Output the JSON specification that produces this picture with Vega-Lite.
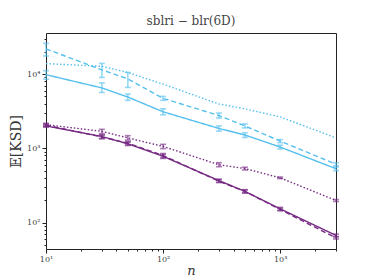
{
  "$schema": "https://vega.github.io/schema/vega-lite/v6.json",
  "width": 290,
  "height": 216,
  "autosize": {"type": "none"},
  "padding": {"left": 46, "top": 33, "right": 38, "bottom": 31},
  "background": "white",
  "config": {
    "view": {"stroke": "#222", "strokeWidth": 1},
    "font": "DejaVu Serif"
  },
  "title": {"text": "sblri − blr(6D)", "font": "DejaVu Serif", "fontSize": 12, "fontWeight": "normal", "color": "#444", "offset": 5},
  "data": {"values": [
    {"n": 10, "g": "c", "s": "solid", "v": 9800, "lo": 8500, "hi": 11100},
    {"n": 30, "g": "c", "s": "solid", "v": 6500, "lo": 5650, "hi": 7600},
    {"n": 50, "g": "c", "s": "solid", "v": 4900, "lo": 4420, "hi": 5380},
    {"n": 100, "g": "c", "s": "solid", "v": 3100, "lo": 2820, "hi": 3400},
    {"n": 300, "g": "c", "s": "solid", "v": 1850, "lo": 1700, "hi": 2000},
    {"n": 500, "g": "c", "s": "solid", "v": 1510, "lo": 1400, "hi": 1620},
    {"n": 1000, "g": "c", "s": "solid", "v": 1040, "lo": 980, "hi": 1100},
    {"n": 3000, "g": "c", "s": "solid", "v": 530, "lo": 500, "hi": 560},
    {"n": 10, "g": "c", "s": "dashed", "v": 21800, "lo": 17500, "hi": 25900},
    {"n": 30, "g": "c", "s": "dashed", "v": 11400, "lo": 9000, "hi": 13900},
    {"n": 50, "g": "c", "s": "dashed", "v": 8600, "lo": 6600, "hi": 10500},
    {"n": 100, "g": "c", "s": "dashed", "v": 4700, "lo": 4420, "hi": 5000},
    {"n": 300, "g": "c", "s": "dashed", "v": 2760, "lo": 2550, "hi": 2980},
    {"n": 500, "g": "c", "s": "dashed", "v": 2000, "lo": 1880, "hi": 2130},
    {"n": 1000, "g": "c", "s": "dashed", "v": 1250, "lo": 1190, "hi": 1310},
    {"n": 3000, "g": "c", "s": "dashed", "v": 610, "lo": 580, "hi": 640},
    {"n": 10, "g": "c", "s": "dotted", "v": 13800, "lo": null, "hi": null},
    {"n": 30, "g": "c", "s": "dotted", "v": 12700, "lo": null, "hi": null},
    {"n": 50, "g": "c", "s": "dotted", "v": 10500, "lo": null, "hi": null},
    {"n": 100, "g": "c", "s": "dotted", "v": 7300, "lo": null, "hi": null},
    {"n": 300, "g": "c", "s": "dotted", "v": 3950, "lo": null, "hi": null},
    {"n": 500, "g": "c", "s": "dotted", "v": 3400, "lo": null, "hi": null},
    {"n": 1000, "g": "c", "s": "dotted", "v": 2650, "lo": null, "hi": null},
    {"n": 3000, "g": "c", "s": "dotted", "v": 1380, "lo": null, "hi": null},
    {"n": 10, "g": "p", "s": "solid", "v": 2000, "lo": 1920, "hi": 2080},
    {"n": 30, "g": "p", "s": "solid", "v": 1440, "lo": 1360, "hi": 1520},
    {"n": 50, "g": "p", "s": "solid", "v": 1150, "lo": 1090, "hi": 1210},
    {"n": 100, "g": "p", "s": "solid", "v": 780, "lo": 730, "hi": 830},
    {"n": 300, "g": "p", "s": "solid", "v": 367, "lo": 350, "hi": 385},
    {"n": 500, "g": "p", "s": "solid", "v": 263, "lo": 250, "hi": 277},
    {"n": 1000, "g": "p", "s": "solid", "v": 153, "lo": 146, "hi": 160},
    {"n": 3000, "g": "p", "s": "solid", "v": 67, "lo": 64, "hi": 70},
    {"n": 10, "g": "p", "s": "dashed", "v": 2050, "lo": 1970, "hi": 2130},
    {"n": 30, "g": "p", "s": "dashed", "v": 1420, "lo": 1340, "hi": 1500},
    {"n": 50, "g": "p", "s": "dashed", "v": 1170, "lo": 1110, "hi": 1230},
    {"n": 100, "g": "p", "s": "dashed", "v": 800, "lo": 750, "hi": 850},
    {"n": 300, "g": "p", "s": "dashed", "v": 360, "lo": 345, "hi": 377},
    {"n": 500, "g": "p", "s": "dashed", "v": 262, "lo": 250, "hi": 275},
    {"n": 1000, "g": "p", "s": "dashed", "v": 150, "lo": 144, "hi": 156},
    {"n": 3000, "g": "p", "s": "dashed", "v": 62, "lo": 60, "hi": 65},
    {"n": 10, "g": "p", "s": "dotted", "v": 2080, "lo": 1990, "hi": 2170},
    {"n": 30, "g": "p", "s": "dotted", "v": 1690, "lo": 1580, "hi": 1800},
    {"n": 50, "g": "p", "s": "dotted", "v": 1380, "lo": 1290, "hi": 1480},
    {"n": 100, "g": "p", "s": "dotted", "v": 1060, "lo": 990, "hi": 1130},
    {"n": 300, "g": "p", "s": "dotted", "v": 600, "lo": 565, "hi": 640},
    {"n": 500, "g": "p", "s": "dotted", "v": 533, "lo": 510, "hi": 556},
    {"n": 1000, "g": "p", "s": "dotted", "v": 400, "lo": 390, "hi": 410},
    {"n": 3000, "g": "p", "s": "dotted", "v": 198, "lo": 192, "hi": 204}
  ]},
  "layer": [
    {
      "mark": {"type": "line", "strokeWidth": 1.4, "clip": true},
      "encoding": {
        "x": {
          "field": "n", "type": "quantitative", "title": "n",
          "scale": {"type": "log", "domain": [10, 3000], "nice": false},
          "axis": {
            "titleFont": "DejaVu Serif", "titleFontStyle": "italic", "titleFontSize": 13, "titleFontWeight": "normal", "titleColor": "#333", "titlePadding": 1,
            "values": [10, 20, 30, 40, 50, 60, 70, 80, 90, 100, 200, 300, 400, 500, 600, 700, 800, 900, 1000, 2000, 3000],
            "labelExpr": "datum.value == 10 ? '10¹' : datum.value == 100 ? '10²' : datum.value == 1000 ? '10³' : ''",
            "labelOverlap": false, "labelBound": false, "labelFlush": false,
            "labelFont": "DejaVu Serif", "labelFontSize": 8, "labelColor": "#444", "labelPadding": 2,
            "grid": false, "domain": false, "tickColor": "#222",
            "tickSize": {"condition": {"test": "abs(log(datum.value)/LN10 - round(log(datum.value)/LN10)) < 1e-6", "value": 4}, "value": 2}
          }
        },
        "y": {
          "field": "v", "type": "quantitative", "title": "𝔼[KSD]",
          "scale": {"type": "log", "domain": [44, 35700], "nice": false},
          "axis": {
            "titleFont": "DejaVu Serif", "titleFontSize": 14, "titleFontWeight": "normal", "titleColor": "#333", "titlePadding": 3,
            "values": [50, 60, 70, 80, 90, 100, 200, 300, 400, 500, 600, 700, 800, 900, 1000, 2000, 3000, 4000, 5000, 6000, 7000, 8000, 9000, 10000, 20000, 30000],
            "labelExpr": "datum.value == 100 ? '10²' : datum.value == 1000 ? '10³' : datum.value == 10000 ? '10⁴' : ''",
            "labelOverlap": false, "labelBound": false, "labelFlush": false,
            "labelFont": "DejaVu Serif", "labelFontSize": 8, "labelColor": "#444", "labelPadding": 2,
            "grid": false, "domain": false, "tickColor": "#222",
            "tickSize": {"condition": {"test": "abs(log(datum.value)/LN10 - round(log(datum.value)/LN10)) < 1e-6", "value": 4}, "value": 2}
          }
        },
        "color": {"field": "g", "type": "nominal", "scale": {"domain": ["c", "p"], "range": ["#55c0ee", "#762a83"]}, "legend": null},
        "strokeDash": {"field": "s", "type": "nominal", "scale": {"domain": ["solid", "dashed", "dotted"], "range": [[1, 0], [5, 3], [1.5, 2]]}, "legend": null}
      }
    },
    {
      "transform": [{"filter": "isValid(datum.lo)"}],
      "mark": {"type": "errorbar", "ticks": {"size": 6}, "thickness": 1.6, "opacity": 0.6},
      "encoding": {
        "x": {"field": "n", "type": "quantitative", "title": "n", "scale": {"type": "log"}},
        "y": {"field": "lo", "type": "quantitative", "title": "𝔼[KSD]", "scale": {"type": "log"}},
        "y2": {"field": "hi"},
        "color": {"field": "g", "type": "nominal", "legend": null}
      }
    }
  ]
}
